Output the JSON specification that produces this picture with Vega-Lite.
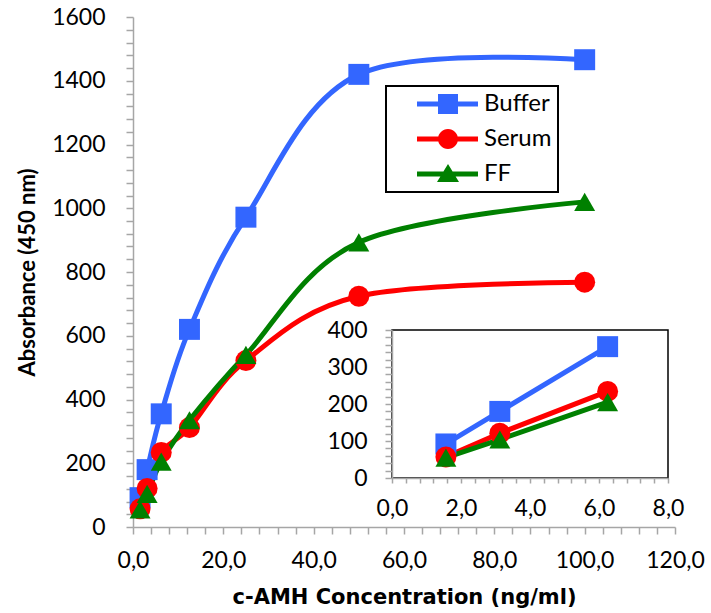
{
  "$schema": "https://vega.github.io/schema/vega-lite/v6.json",
  "autosize": "none",
  "width": 542,
  "height": 510,
  "padding": {"left": 133, "top": 17, "right": 36, "bottom": 86},
  "background": "white",
  "config": {
    "view": {"stroke": null},
    "font": "Lato",
    "axis": {"labelFont": "Lato", "labelFontSize": 23, "labelColor": "#000000", "domainColor": "#A6A6A6", "tickColor": "#A6A6A6", "domainWidth": 1.5, "tickWidth": 1.5, "grid": false, "titleFont": "Lato", "titleFontWeight": "bold", "titleFontSize": 22, "titleColor": "#000000"}
  },
  "datasets": {
    "curves": [
      {"conc": 1.5625, "series": "Buffer", "abs": 92},
      {"conc": 3.125, "series": "Buffer", "abs": 180},
      {"conc": 6.25, "series": "Buffer", "abs": 355},
      {"conc": 12.5, "series": "Buffer", "abs": 620},
      {"conc": 25, "series": "Buffer", "abs": 972},
      {"conc": 50, "series": "Buffer", "abs": 1420},
      {"conc": 100, "series": "Buffer", "abs": 1466},
      {"conc": 1.5625, "series": "Serum", "abs": 57},
      {"conc": 3.125, "series": "Serum", "abs": 121},
      {"conc": 6.25, "series": "Serum", "abs": 234},
      {"conc": 12.5, "series": "Serum", "abs": 312},
      {"conc": 25, "series": "Serum", "abs": 522},
      {"conc": 50, "series": "Serum", "abs": 724},
      {"conc": 100, "series": "Serum", "abs": 768},
      {"conc": 1.5625, "series": "FF", "abs": 55},
      {"conc": 3.125, "series": "FF", "abs": 104},
      {"conc": 6.25, "series": "FF", "abs": 205},
      {"conc": 12.5, "series": "FF", "abs": 335},
      {"conc": 25, "series": "FF", "abs": 540},
      {"conc": 50, "series": "FF", "abs": 893},
      {"conc": 100, "series": "FF", "abs": 1020}
    ]
  },
  "resolve": {"scale": {"x": "independent", "y": "independent"}, "axis": {"x": "independent", "y": "independent"}},
  "layer": [
    {
      "data": {"name": "curves"},
      "encoding": {
        "x": {"field": "conc", "type": "quantitative",
          "scale": {"domain": [0, 120], "nice": false, "zero": false},
          "axis": {"title": "c-AMH Concentration (ng/ml)", "orient": "bottom",
            "values": [0,4,8,12,16,20,24,28,32,36,40,44,48,52,56,60,64,68,72,76,80,84,88,92,96,100,104,108,112,116,120],
            "labelExpr": "datum.value % 20 === 0 ? replace(format(datum.value, '.1f'), '.', ',') : ''",
            "titleFont": "DejaVu Sans", "titleFontSize": 21,
            "tickSize": 7, "labelPadding": 15, "titlePadding": 14, "labelOverlap": false, "labelFlush": false}},
        "y": {"field": "abs", "type": "quantitative",
          "scale": {"domain": [0, 1600], "nice": false},
          "axis": {"title": "Absorbance (450 nm)", "orient": "left",
            "values": [0,40,80,120,160,200,240,280,320,360,400,440,480,520,560,600,640,680,720,760,800,840,880,920,960,1000,1040,1080,1120,1160,1200,1240,1280,1320,1360,1400,1440,1480,1520,1560,1600],
            "labelExpr": "datum.value % 200 === 0 ? datum.label : ''",
            "format": "d",
            "tickSize": 7, "labelPadding": 21, "titlePadding": 12, "labelOverlap": false, "labelFlush": false}},
        "color": {"field": "series", "type": "nominal",
          "scale": {"domain": ["Buffer", "Serum", "FF"], "range": ["#3366FF", "#FF0000", "#008000"]},
          "legend": {"title": null, "orient": "none", "legendX": 253, "legendY": 69,
            "padding": 6, "strokeColor": "#000000", "fillColor": "#FFFFFF",
            "symbolSize": 400, "labelOffset": 68, "rowPadding": 11,
            "labelFont": "Lato", "labelFontSize": 24, "labelColor": "#000000",
            "labelExpr": "datum.label + '\u00a0\u00a0\u00a0\u00a0\u00a0'",
            "encode": {
              "legend": {"update": {"strokeWidth": {"value": 2}}},
              "symbols": {"update": {
                "shape": {"signal": "datum.value === 'Buffer' ? 'M1.3,-0.25H7.4V0.25H1.3Z M3.4,-1H5.4V1H3.4Z' : datum.value === 'Serum' ? 'M1.3,-0.25H7.4V0.25H1.3Z M3.4,0A1,1 0 1,1 5.4,0A1,1 0 1,1 3.4,0Z' : 'M1.3,-0.25H7.4V0.25H1.3Z M4.4,-1L5.5,0.8H3.3Z'"},
                "fill": {"signal": "datum.value === 'Buffer' ? '#3366FF' : datum.value === 'Serum' ? '#FF0000' : '#008000'"},
                "fillOpacity": {"value": 1},
                "strokeWidth": {"value": 0},
                "opacity": {"value": 1}
              }}
            }}}
      },
      "layer": [
        {"mark": {"type": "line", "interpolate": "cardinal", "strokeWidth": 5}},
        {"mark": {"type": "point", "filled": true, "opacity": 1, "size": 440},
         "encoding": {"shape": {"field": "series", "type": "nominal",
           "scale": {"domain": ["FF", "Serum", "Buffer"], "range": ["triangle-up", "circle", "square"]}, "legend": null}}}
      ]
    },
    {
      "encoding": {
        "x": {"type": "quantitative",
          "scale": {"domain": [0, 8], "range": [259, 535], "nice": false, "zero": false},
          "axis": {"title": null, "orient": "bottom", "offset": -49, "zindex": 1,
            "values": [0,0.4,0.8,1.2,1.6,2,2.4,2.8,3.2,3.6,4,4.4,4.8,5.2,5.6,6,6.4,6.8,7.2,7.6,8],
            "labelExpr": "datum.value % 2 === 0 ? replace(format(datum.value, '.1f'), '.', ',') : ''",
            "tickSize": 5, "labelPadding": 14, "labelOverlap": false, "labelFlush": false}},
        "y": {"type": "quantitative",
          "scale": {"domain": [0, 400], "range": [461, 313], "nice": false},
          "axis": {"title": null, "orient": "left", "offset": -259, "zindex": 1,
            "values": [0,20,40,60,80,100,120,140,160,180,200,220,240,260,280,300,320,340,360,380,400],
            "labelExpr": "datum.value % 100 === 0 ? datum.label : ''",
            "format": "d",
            "tickSize": 7, "labelPadding": 18, "labelOverlap": false, "labelFlush": false}}
      },
      "layer": [
        {"data": {"values": [{}]},
         "mark": {"type": "rect", "fill": "#FFFFFF", "stroke": "#000000", "strokeWidth": 1.5},
         "encoding": {"x": {"datum": 0}, "x2": {"datum": 8}, "y": {"datum": 0}, "y2": {"datum": 400}}},
        {"data": {"name": "curves"},
         "transform": [{"filter": "datum.conc <= 7"}],
         "mark": {"type": "line", "strokeWidth": 5},
         "encoding": {"x": {"field": "conc"}, "y": {"field": "abs"}, "color": {"field": "series", "type": "nominal"}}},
        {"data": {"name": "curves"},
         "transform": [{"filter": "datum.conc <= 7"}],
         "mark": {"type": "point", "filled": true, "opacity": 1, "size": 440},
         "encoding": {"x": {"field": "conc"}, "y": {"field": "abs"}, "color": {"field": "series", "type": "nominal"},
           "shape": {"field": "series", "type": "nominal", "legend": null}}}
      ]
    }
  ]
}
